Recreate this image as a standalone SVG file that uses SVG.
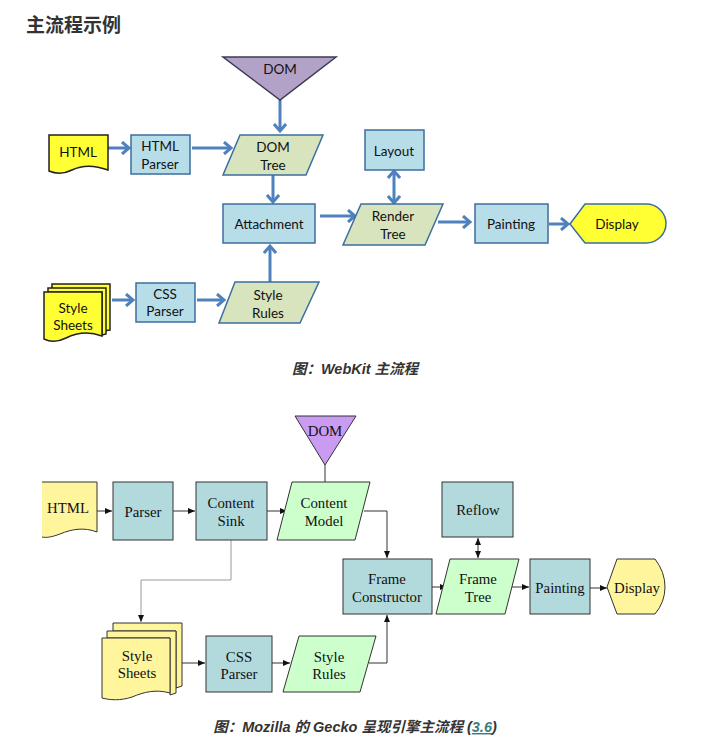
<svg xmlns="http://www.w3.org/2000/svg" width="705" height="755" viewBox="0 0 705 755">
<style>
.wk{font-family:Lato,"Open Sans","Liberation Sans",sans-serif;font-size:13.5px;fill:#111;text-anchor:middle;dominant-baseline:central}
.gk{font-family:"Liberation Serif","Times New Roman",serif;font-size:14.8px;fill:#111;text-anchor:middle;dominant-baseline:central}
.wbox{fill:#b7dde8;stroke:#3d6e9e;stroke-width:1.5}
.wpar{fill:#d7e4bd;stroke:#3d6e9e;stroke-width:1.5}
.wdoc{fill:#ffff33;stroke:#222;stroke-width:1.5}
.wc{fill:none;stroke:#4f81bd;stroke-width:3}
.gbox{fill:#b2dadd;stroke:#333;stroke-width:1}
.gpar{fill:#ccffcc;stroke:#333;stroke-width:1}
.gdoc{fill:#fff59d;stroke:#333;stroke-width:1}
.gc{fill:none;stroke:#333;stroke-width:1}
.gg{fill:none;stroke:#9a9a9a;stroke-width:1}
.cap{font-family:"Liberation Sans","Noto Sans CJK SC",sans-serif;font-size:14.5px;font-weight:bold;font-style:italic;fill:#333;text-anchor:middle}
</style>
<defs>
<marker id="wa" markerUnits="userSpaceOnUse" markerWidth="14" markerHeight="14" refX="9" refY="7" orient="auto-start-reverse" viewBox="0 0 14 14">
<path d="M2,1 L9,7 L2,13" fill="none" stroke="#4f81bd" stroke-width="3"/>
</marker>
<marker id="ga" markerUnits="userSpaceOnUse" markerWidth="8" markerHeight="8" refX="7" refY="4" orient="auto-start-reverse" viewBox="0 0 8 8">
<path d="M0,1 L7,4 L0,7 Z" fill="#111"/>
</marker>
</defs>
<rect width="705" height="755" fill="#fff"/>
<text x="26" y="32" font-family="'Noto Sans CJK SC',sans-serif" font-size="19" font-weight="bold" fill="#333">主流程示例</text>

<!-- WebKit connectors -->
<g id="wk-connectors">
<line class="wc" x1="280" y1="100" x2="280" y2="131" marker-end="url(#wa)"/>
<line class="wc" x1="108" y1="148" x2="129" y2="148" marker-end="url(#wa)"/>
<line class="wc" x1="192" y1="148" x2="231" y2="148" marker-end="url(#wa)"/>
<line class="wc" x1="273" y1="175" x2="273" y2="202" marker-end="url(#wa)"/>
<line class="wc" x1="320" y1="216" x2="355" y2="216" marker-end="url(#wa)"/>
<line class="wc" x1="394" y1="171" x2="394" y2="203" marker-start="url(#wa)" marker-end="url(#wa)"/>
<line class="wc" x1="438" y1="222" x2="470" y2="222" marker-end="url(#wa)"/>
<line class="wc" x1="549" y1="224" x2="568" y2="224" marker-end="url(#wa)"/>
<line class="wc" x1="112" y1="300" x2="133" y2="300" marker-end="url(#wa)"/>
<line class="wc" x1="197" y1="300" x2="224" y2="300" marker-end="url(#wa)"/>
<line class="wc" x1="270" y1="282" x2="270" y2="246" marker-end="url(#wa)"/>
</g>

<g id="wk-dom">
<path d="M223,57 L336,57 L280,100 Z" fill="#b3a2c7" stroke="#3b3b55" stroke-width="1.5"/>
<text class="wk" x="280" y="69">DOM</text>
</g>
<g id="wk-html">
<path class="wdoc" d="M49,135 H108 V170 C92,164 80,166 72,170 C64,174 56,174 49,171 Z"/>
<text class="wk" x="78" y="152">HTML</text>
</g>
<g id="wk-htmlparser">
<rect class="wbox" x="131" y="135" width="59" height="39"/>
<text class="wk" x="160" y="146">HTML</text>
<text class="wk" x="160" y="164">Parser</text>
</g>
<g id="wk-domtree">
<path class="wpar" d="M240,135 H323 L306,175 H223 Z"/>
<text class="wk" x="273" y="147">DOM</text>
<text class="wk" x="273" y="165">Tree</text>
</g>
<g id="wk-attachment">
<rect class="wbox" x="223" y="204" width="92" height="39"/>
<text class="wk" x="269" y="224">Attachment</text>
</g>
<g id="wk-layout">
<rect class="wbox" x="365" y="130" width="59" height="40"/>
<text class="wk" x="394" y="151">Layout</text>
</g>
<g id="wk-rendertree">
<path class="wpar" d="M361,204 H443 L425,245 H343 Z"/>
<text class="wk" x="393" y="216">Render</text>
<text class="wk" x="393" y="234">Tree</text>
</g>
<g id="wk-painting">
<rect class="wbox" x="475" y="204" width="73" height="39"/>
<text class="wk" x="511" y="224">Painting</text>
</g>
<g id="wk-display">
<path d="M570,224 L585,204 H646 A20,19.5 0 0 1 646,243 H585 Z" fill="#ffff33" stroke="#3d6e9e" stroke-width="1.5"/>
<text class="wk" x="617" y="224">Display</text>
</g>
<g id="wk-stylesheets">
<path class="wdoc" d="M52,284 H110 V330 L102,331 V290 H52 Z"/>
<path class="wdoc" d="M48,288 H106 V334 L102,335 V292 H48 Z"/>
<path class="wdoc" d="M44,292 H102 V336 C86,330 74,334 66,338 C58,342 50,342 44,339 Z"/>
<text class="wk" x="73" y="308">Style</text>
<text class="wk" x="73" y="325">Sheets</text>
</g>
<g id="wk-cssparser">
<rect class="wbox" x="136" y="283" width="59" height="39"/>
<text class="wk" x="165" y="294">CSS</text>
<text class="wk" x="165" y="311">Parser</text>
</g>
<g id="wk-stylerules">
<path class="wpar" d="M235,282 H319 L300,323 H219 Z"/>
<text class="wk" x="268" y="295">Style</text>
<text class="wk" x="268" y="313">Rules</text>
</g>

<text class="cap" x="355" y="374">图：WebKit 主流程</text>

<!-- Gecko connectors -->
<g id="gk-connectors">
<line class="gc" x1="325" y1="465" x2="325" y2="483"/>
<line class="gc" x1="97" y1="511" x2="112" y2="511" marker-end="url(#ga)"/>
<line class="gc" x1="173" y1="511" x2="195" y2="511" marker-end="url(#ga)"/>
<line class="gc" x1="267" y1="511" x2="287" y2="511" marker-end="url(#ga)"/>
<polyline class="gc" points="364,511 387,511 387,558" marker-end="url(#ga)"/>
<line class="gc" x1="432" y1="587" x2="447" y2="587" marker-end="url(#ga)"/>
<line class="gc" x1="478" y1="538" x2="478" y2="558" marker-start="url(#ga)" marker-end="url(#ga)"/>
<line class="gc" x1="512" y1="587" x2="529" y2="587" marker-end="url(#ga)"/>
<line class="gc" x1="590" y1="588" x2="607" y2="588" marker-end="url(#ga)"/>
<polyline class="gg" points="231,540 231,580 141,580 141,622" marker-end="url(#ga)"/>
<line class="gc" x1="182" y1="663" x2="205" y2="663" marker-end="url(#ga)"/>
<line class="gc" x1="272" y1="663" x2="290" y2="663" marker-end="url(#ga)"/>
<polyline class="gc" points="369,663 387,663 387,615" marker-end="url(#ga)"/>
</g>

<g id="gk-dom">
<path d="M295,416 L356,416 L325,465 Z" fill="#c99cf2" stroke="#333" stroke-width="1"/>
<text class="gk" x="325" y="431">DOM</text>
</g>
<g id="gk-html">
<path class="gdoc" d="M42,482 H97 V532 C84,527 72,529 60,534 C52,537 46,538 42,537"/>
<text class="gk" x="68" y="508">HTML</text>
</g>
<g id="gk-parser">
<rect class="gbox" x="113" y="482" width="60" height="58"/>
<text class="gk" x="143" y="512">Parser</text>
</g>
<g id="gk-contentsink">
<rect class="gbox" x="196" y="482" width="71" height="58"/>
<text class="gk" x="231" y="503">Content</text>
<text class="gk" x="231" y="521">Sink</text>
</g>
<g id="gk-contentmodel">
<path class="gpar" d="M292,482 H370 L355,540 H277 Z"/>
<text class="gk" x="324" y="503">Content</text>
<text class="gk" x="324" y="521">Model</text>
</g>
<g id="gk-reflow">
<rect class="gbox" x="442" y="482" width="71" height="55"/>
<text class="gk" x="478" y="510">Reflow</text>
</g>
<g id="gk-frameconstructor">
<rect class="gbox" x="343" y="559" width="89" height="55"/>
<text class="gk" x="387" y="579">Frame</text>
<text class="gk" x="387" y="597">Constructor</text>
</g>
<g id="gk-frametree">
<path class="gpar" d="M450,559 H519 L505,614 H436 Z"/>
<text class="gk" x="478" y="579">Frame</text>
<text class="gk" x="478" y="597">Tree</text>
</g>
<g id="gk-painting">
<rect class="gbox" x="530" y="559" width="60" height="55"/>
<text class="gk" x="560" y="588">Painting</text>
</g>
<g id="gk-display">
<path d="M607,587 L617,559 H655 Q665,572 665,587 Q665,602 655,614 H617 Z" fill="#fff59d" stroke="#333" stroke-width="1"/>
<text class="gk" x="637" y="588">Display</text>
</g>
<g id="gk-stylesheets">
<path class="gdoc" d="M113,623 H182 V686 L176,688 V631 H113 Z"/>
<path class="gdoc" d="M107,631 H176 V693 L170,695 V638 H107 Z"/>
<path class="gdoc" d="M102,638 H170 V693 C156,689 144,692 132,697 C120,701 110,700 102,698 Z"/>
<text class="gk" x="137" y="656">Style</text>
<text class="gk" x="137" y="673">Sheets</text>
</g>
<g id="gk-cssparser">
<rect class="gbox" x="206" y="636" width="66" height="56"/>
<text class="gk" x="239" y="657">CSS</text>
<text class="gk" x="239" y="674">Parser</text>
</g>
<g id="gk-stylerules">
<path class="gpar" d="M299,636 H376 L360,692 H283 Z"/>
<text class="gk" x="329" y="657">Style</text>
<text class="gk" x="329" y="674">Rules</text>
</g>

<text class="cap" x="355" y="732">图：Mozilla 的 Gecko 呈现引擎主流程 (<tspan fill="#3e7c7c" text-decoration="underline">3.6</tspan>)</text>
</svg>
